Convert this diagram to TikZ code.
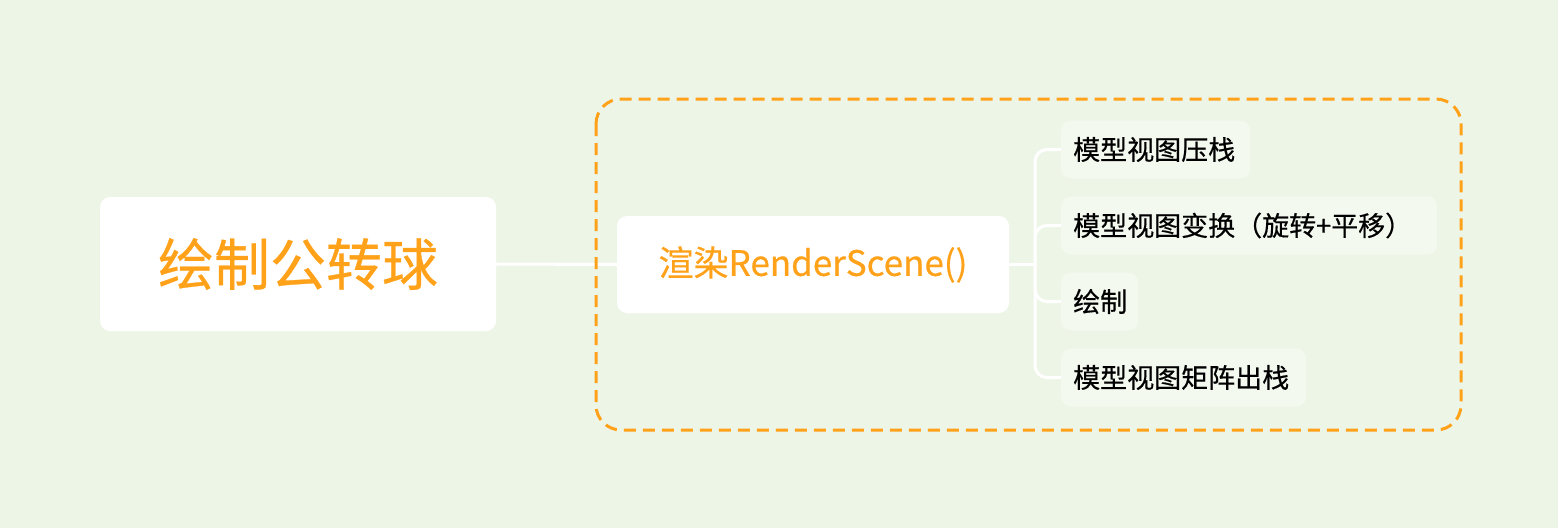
\documentclass[tikz,border=0pt]{standalone}
\usepackage{fontspec}
\setmainfont{Noto Sans CJK SC}[FakeBold=0.5]
\definecolor{bg}{HTML}{EDF5E7}
\definecolor{org}{HTML}{FFA21A}
\definecolor{leaf}{HTML}{F4F9F0}
\tikzset{
  rootbox/.style={fill=white, rounded corners=10pt, minimum width=396pt, minimum height=134pt, inner sep=0pt, text=org, font=\fontsize{56}{64}\selectfont},
  midbox/.style={fill=white, rounded corners=10pt, minimum width=392pt, minimum height=97pt, inner sep=0pt, text=org, font=\fontsize{35}{40}\selectfont},
  leafbox/.style={fill=leaf, rounded corners=10pt, minimum height=58pt, inner xsep=12pt, inner ysep=0pt, anchor=west, align=left, text=black, font=\fontsize{27}{32}\selectfont},
  link/.style={draw=white, line width=3pt},
  group/.style={draw=org, line width=3pt, dash pattern=on 12pt off 7pt, rounded corners=25pt}
}
\begin{document}
\begin{tikzpicture}[x=1pt,y=-1pt]
\useasboundingbox (0,0) rectangle (1558,528);
\fill[bg] (0,0) rectangle (1558,528);
\node[rootbox] (root) at (298,264) {绘制公转球};
\node[midbox] (render) at (813,264.5) {渲染RenderScene()};
\node[leafbox, text width=165pt] (c1) at (1061,149.5) {模型视图压栈};
\node[leafbox, text width=352pt] (c2) at (1061,225.5) {模型视图变换（旋转+平移）};
\node[leafbox, text width=53pt] (c3) at (1061,301.5) {绘制};
\node[leafbox, text width=221pt] (c4) at (1061,377.5) {模型视图矩阵出栈};
\coordinate (j) at (1035,264);
\draw[link] (root.east) -- (render.west);
\draw[link] (render.east |- j) -- (j);
\foreach \c in {c1,c2,c3,c4}{
  \draw[link, rounded corners=12pt] (j) |- (\c.west);
}
\draw[group] (596,99) rectangle (1461,430);
\end{tikzpicture}
\end{document}
